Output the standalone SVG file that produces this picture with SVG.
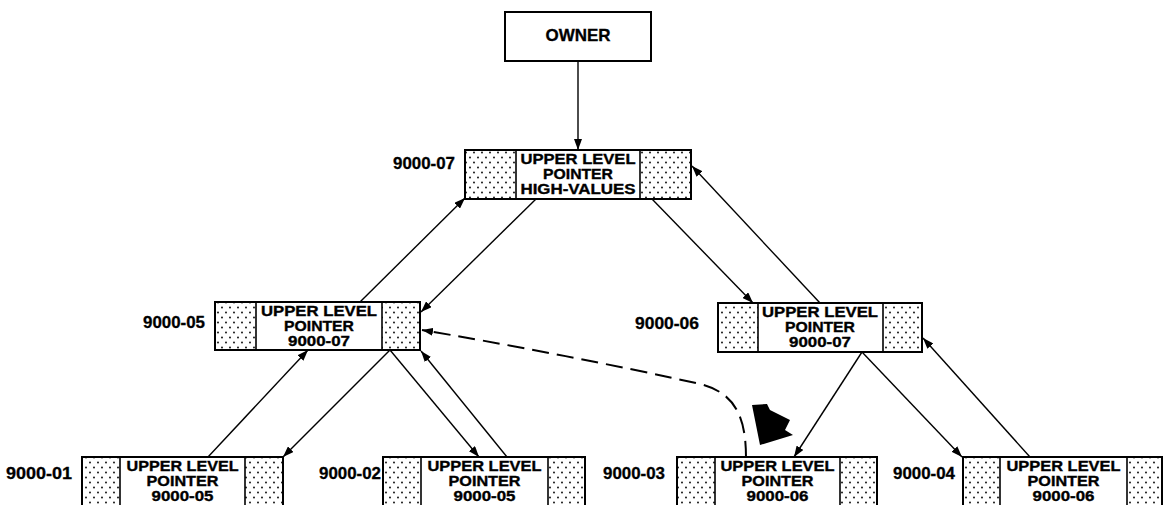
<svg xmlns="http://www.w3.org/2000/svg" width="1167" height="505" viewBox="0 0 1167 505">
  <style>
    .frame { fill: #fff; stroke: #000; stroke-width: 2; }
    .dots { fill: url(#stipple); stroke: none; }
    .div { stroke: #000; stroke-width: 1.6; }
    .t { font-family: "Liberation Sans", Arial, sans-serif; font-weight: bold; font-size: 14.5px; fill: #000; text-anchor: middle; stroke: #000; stroke-width: 0.35; }
    .big { font-size: 17px; }
    .lbl { font-family: "Liberation Sans", Arial, sans-serif; font-weight: bold; font-size: 16px; fill: #000; stroke: #000; stroke-width: 0.3; }
    .link { fill: none; stroke: #000; stroke-width: 1.4; marker-end: url(#arrow); }
    .dash { fill: none; stroke: #000; stroke-width: 2; stroke-dasharray: 17 8; marker-end: url(#arrow); }
  </style>
  <defs>
    <pattern id="stipple" width="8" height="10" patternUnits="userSpaceOnUse">
      <rect width="8" height="10" fill="#fff"/>
      <circle cx="2" cy="2.5" r="0.9" fill="#000"/>
      <circle cx="6" cy="7.5" r="0.9" fill="#000"/>
    </pattern>
    <marker id="arrow" markerUnits="userSpaceOnUse" markerWidth="11" markerHeight="8" refX="11" refY="4" orient="auto">
      <path d="M0,0 L11,4 L0,8 z" fill="#000"/>
    </marker>
  </defs>

  <rect width="1167" height="505" fill="#fff"/>

  <!-- owner record -->
  <g id="owner">
    <rect class="frame" x="505" y="12" width="146" height="49"/>
    <text class="t big" x="578" y="41" textLength="65" lengthAdjust="spacingAndGlyphs">OWNER</text>
  </g>

  <!-- top-level index record -->
  <g id="n9000-07">
    <rect class="frame" x="465" y="150" width="226" height="49"/>
    <rect class="dots" x="466" y="151" width="50" height="47"/>
    <rect class="dots" x="640" y="151" width="50" height="47"/>
    <line class="div" x1="516" y1="150" x2="516" y2="199"/>
    <line class="div" x1="640" y1="150" x2="640" y2="199"/>
    <text class="t" x="578" y="164" textLength="115" lengthAdjust="spacingAndGlyphs">UPPER LEVEL</text>
    <text class="t" x="578" y="179" textLength="70" lengthAdjust="spacingAndGlyphs">POINTER</text>
    <text class="t" x="578" y="194" textLength="115" lengthAdjust="spacingAndGlyphs">HIGH-VALUES</text>
    <text class="lbl" x="455" y="169" text-anchor="end" textLength="62" lengthAdjust="spacingAndGlyphs">9000-07</text>
  </g>

  <!-- second level -->
  <g id="n9000-05">
    <rect class="frame" x="215" y="302" width="205" height="48"/>
    <rect class="dots" x="216" y="303" width="40" height="46"/>
    <rect class="dots" x="382" y="303" width="37" height="46"/>
    <line class="div" x1="256" y1="302" x2="256" y2="350"/>
    <line class="div" x1="382" y1="302" x2="382" y2="350"/>
    <text class="t" x="319" y="316" textLength="116" lengthAdjust="spacingAndGlyphs">UPPER LEVEL</text>
    <text class="t" x="319" y="331" textLength="70" lengthAdjust="spacingAndGlyphs">POINTER</text>
    <text class="t" x="319" y="346" textLength="62" lengthAdjust="spacingAndGlyphs">9000-07</text>
    <text class="lbl" x="205" y="328" text-anchor="end" textLength="62" lengthAdjust="spacingAndGlyphs">9000-05</text>
  </g>

  <g id="n9000-06">
    <rect class="frame" x="718" y="303" width="204" height="49"/>
    <rect class="dots" x="719" y="304" width="39" height="47"/>
    <rect class="dots" x="883" y="304" width="38" height="47"/>
    <line class="div" x1="758" y1="303" x2="758" y2="352"/>
    <line class="div" x1="883" y1="303" x2="883" y2="352"/>
    <text class="t" x="820" y="317" textLength="116" lengthAdjust="spacingAndGlyphs">UPPER LEVEL</text>
    <text class="t" x="820" y="332" textLength="70" lengthAdjust="spacingAndGlyphs">POINTER</text>
    <text class="t" x="820" y="347" textLength="62" lengthAdjust="spacingAndGlyphs">9000-07</text>
    <text class="lbl" x="635" y="329" textLength="64" lengthAdjust="spacingAndGlyphs">9000-06</text>
  </g>

  <!-- leaf level -->
  <g id="n9000-01">
    <rect class="frame" x="82" y="457" width="201" height="60"/>
    <rect class="dots" x="83" y="458" width="37" height="58"/>
    <rect class="dots" x="245" y="458" width="37" height="58"/>
    <line class="div" x1="120" y1="457" x2="120" y2="517"/>
    <line class="div" x1="245" y1="457" x2="245" y2="517"/>
    <text class="t" x="182.5" y="471" textLength="112" lengthAdjust="spacingAndGlyphs">UPPER LEVEL</text>
    <text class="t" x="182.5" y="486" textLength="72" lengthAdjust="spacingAndGlyphs">POINTER</text>
    <text class="t" x="182.5" y="501" textLength="62" lengthAdjust="spacingAndGlyphs">9000-05</text>
    <text class="lbl" x="72" y="479" text-anchor="end" textLength="66" lengthAdjust="spacingAndGlyphs">9000-01</text>
  </g>

  <g id="n9000-02">
    <rect class="frame" x="383" y="457" width="202" height="60"/>
    <rect class="dots" x="384" y="458" width="37" height="58"/>
    <rect class="dots" x="548" y="458" width="36" height="58"/>
    <line class="div" x1="421" y1="457" x2="421" y2="517"/>
    <line class="div" x1="548" y1="457" x2="548" y2="517"/>
    <text class="t" x="484.5" y="471" textLength="114" lengthAdjust="spacingAndGlyphs">UPPER LEVEL</text>
    <text class="t" x="484.5" y="486" textLength="72" lengthAdjust="spacingAndGlyphs">POINTER</text>
    <text class="t" x="484.5" y="501" textLength="62" lengthAdjust="spacingAndGlyphs">9000-05</text>
    <text class="lbl" x="381" y="479" text-anchor="end" textLength="62" lengthAdjust="spacingAndGlyphs">9000-02</text>
  </g>

  <g id="n9000-03">
    <rect class="frame" x="677" y="457" width="200" height="60"/>
    <rect class="dots" x="678" y="458" width="37" height="58"/>
    <rect class="dots" x="840" y="458" width="36" height="58"/>
    <line class="div" x1="715" y1="457" x2="715" y2="517"/>
    <line class="div" x1="840" y1="457" x2="840" y2="517"/>
    <text class="t" x="777.5" y="471" textLength="114" lengthAdjust="spacingAndGlyphs">UPPER LEVEL</text>
    <text class="t" x="777.5" y="486" textLength="72" lengthAdjust="spacingAndGlyphs">POINTER</text>
    <text class="t" x="777.5" y="501" textLength="62" lengthAdjust="spacingAndGlyphs">9000-06</text>
    <text class="lbl" x="665" y="479" text-anchor="end" textLength="62" lengthAdjust="spacingAndGlyphs">9000-03</text>
  </g>

  <g id="n9000-04">
    <rect class="frame" x="963" y="457" width="199" height="60"/>
    <rect class="dots" x="964" y="458" width="36" height="58"/>
    <rect class="dots" x="1127" y="458" width="34" height="58"/>
    <line class="div" x1="1000" y1="457" x2="1000" y2="517"/>
    <line class="div" x1="1127" y1="457" x2="1127" y2="517"/>
    <text class="t" x="1063.5" y="471" textLength="114" lengthAdjust="spacingAndGlyphs">UPPER LEVEL</text>
    <text class="t" x="1063.5" y="486" textLength="72" lengthAdjust="spacingAndGlyphs">POINTER</text>
    <text class="t" x="1063.5" y="501" textLength="62" lengthAdjust="spacingAndGlyphs">9000-06</text>
    <text class="lbl" x="955" y="479" text-anchor="end" textLength="62" lengthAdjust="spacingAndGlyphs">9000-04</text>
  </g>

  <!-- pointer chains -->
  <g id="connectors">
    <line class="link" x1="578" y1="61" x2="578" y2="150"/>
    <line class="link" x1="360" y1="302" x2="465" y2="198"/>
    <line class="link" x1="536" y1="199" x2="421" y2="312"/>
    <line class="link" x1="652" y1="199" x2="753" y2="303"/>
    <line class="link" x1="820" y1="303" x2="692" y2="166"/>
    <line class="link" x1="390" y1="350" x2="283" y2="457"/>
    <line class="link" x1="208" y1="457" x2="308" y2="350"/>
    <line class="link" x1="390" y1="350" x2="479" y2="457"/>
    <line class="link" x1="507" y1="457" x2="421" y2="351"/>
    <line class="link" x1="862" y1="352" x2="794" y2="457"/>
    <line class="link" x1="862" y1="352" x2="962" y2="457"/>
    <line class="link" x1="1030" y1="457" x2="923" y2="338"/>
    <path class="dash" d="M746,458 C746,418 736,393 700,384 C620,366 500,343 422,330"/>
    <polygon points="752,405 767,404 770,410 790,420 785,430 793,435 760,445" fill="#000"/>
  </g>
</svg>
